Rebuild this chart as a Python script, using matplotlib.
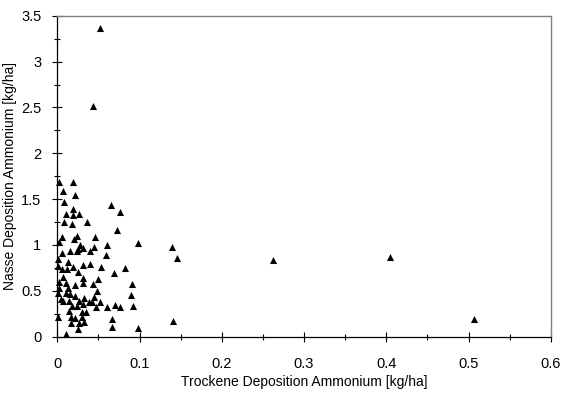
import matplotlib
matplotlib.use("Agg")
import matplotlib.pyplot as plt
from matplotlib.ticker import MultipleLocator

plt.rcParams['font.family'] = ['Liberation Sans', 'DejaVu Sans']

# Trockene (dry) vs. Nasse (wet) Deposition Ammonium, kg/ha
dry = [0.0024, 0.0187, 0.0066, 0.0215, 0.0081, 0.065, 0.076, 0.0187, 0.0106, 0.0195,
       0.0264, 0.0085, 0.0175, 0.0357, 0.072, 0.0053, 0.0236, 0.0458, 0.0024, 0.0207,
       0.098, 0.061, 0.0276, 0.031, 0.0255, 0.045, 0.0397, 0.0154, 0.0061, 0.0236,
       0.059, 0.0012, 0.0126, 0.0316, 0.0397, 0.0527, 0.082, 0.0012, 0.0061, 0.0114,
       0.0187, 0.0248, 0.069, 0.0073, 0.031, 0.050, 0.0021, 0.0106, 0.0215, 0.031,
       0.0437, 0.0904, 0.0024, 0.0134, 0.0012, 0.0106, 0.0154, 0.0215, 0.0479, 0.0896,
       0.0041, 0.0073, 0.0146, 0.0267, 0.0328, 0.0389, 0.045, 0.0519, 0.0175, 0.0236,
       0.0316, 0.0418, 0.047, 0.060, 0.070, 0.076, 0.0916, 0.0146, 0.0296, 0.0345,
       0.0012, 0.0163, 0.0215, 0.0304, 0.0668, 0.0163, 0.0267, 0.0324, 0.0248, 0.0668,
       0.098, 0.0106,
       0.052, 0.043, 0.262, 0.405, 0.507, 0.139, 0.146, 0.141]
wet = [1.69, 1.69, 1.59, 1.55, 1.47, 1.436, 1.357, 1.39, 1.335, 1.327,
       1.335, 1.254, 1.229, 1.247, 1.164, 1.09, 1.10, 1.09, 1.036, 1.062,
       1.025, 1.0, 1.0, 0.964, 0.953, 0.975, 0.938, 0.935, 0.916, 0.935,
       0.891, 0.844, 0.811, 0.778, 0.796, 0.76, 0.75, 0.771, 0.735, 0.735,
       0.763, 0.702, 0.691, 0.654, 0.643, 0.626, 0.60, 0.582, 0.564, 0.582,
       0.575, 0.578, 0.528, 0.528, 0.473, 0.48, 0.462, 0.447, 0.498, 0.455,
       0.408, 0.389, 0.389, 0.389, 0.425, 0.382, 0.436, 0.375, 0.335, 0.338,
       0.357, 0.375, 0.324, 0.32, 0.346, 0.32, 0.335, 0.277, 0.273, 0.273,
       0.218, 0.218, 0.207, 0.218, 0.19, 0.153, 0.146, 0.157, 0.081, 0.103,
       0.098, 0.026,
       3.37, 2.52, 0.836, 0.866, 0.19, 0.975, 0.86, 0.168]

x_ticks = [0, 0.1, 0.2, 0.3, 0.4, 0.5, 0.6]
x_labels = ['0', '0.1', '0.2', '0.3', '0.4', '0.5', '0.6']
y_ticks = [0, 0.5, 1, 1.5, 2, 2.5, 3, 3.5]
y_labels = ['0', '0.5', '1', '1.5', '2', '2.5', '3', '3.5']

fig = plt.figure(figsize=(5.62, 3.94), dpi=100)
ax = fig.add_axes([0.102, 0.1455, 0.878, 0.8145])

ax.scatter(dry, wet, marker='^', s=26, color='black', linewidths=0, clip_on=False, zorder=3)

ax.set_xlim(0, 0.6)
ax.set_ylim(0, 3.5)
ax.set_xticks(x_ticks, x_labels)
ax.set_yticks(y_ticks, y_labels)
ax.xaxis.set_minor_locator(MultipleLocator(0.05))
ax.yaxis.set_minor_locator(MultipleLocator(0.25))

ax.tick_params(which='major', direction='inout', length=7, width=0.8, labelsize=10.5)
ax.tick_params(axis='x', which='major', pad=11)
ax.tick_params(axis='y', which='major', pad=8)
ax.tick_params(which='minor', direction='inout', length=5, width=0.8)

for side in ['top', 'right']:
    ax.spines[side].set_color('#808080')
    ax.spines[side].set_linewidth(1.0)
for side in ['left', 'bottom']:
    ax.spines[side].set_color('black')
    ax.spines[side].set_linewidth(0.9)

ax.set_xlabel("Trockene Deposition Ammonium [kg/ha]", fontsize=10, labelpad=3)
ax.set_ylabel("Nasse Deposition Ammonium [kg/ha]", fontsize=10, labelpad=3)

fig.savefig("out.png", dpi=100)
